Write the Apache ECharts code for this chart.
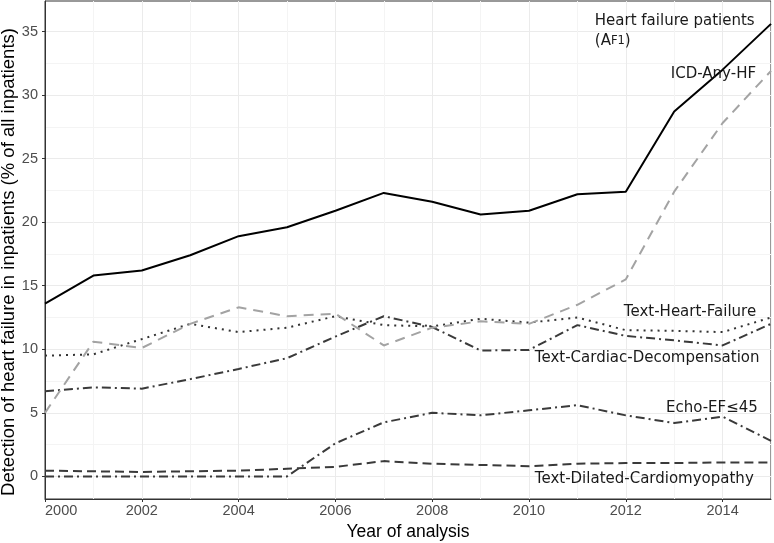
<!DOCTYPE html>
<html><head><meta charset="utf-8">
<script src="https://cdn.jsdelivr.net/npm/echarts@6/dist/echarts.min.js"></script>
<style>html,body{margin:0;padding:0;background:#fff}#c{width:774px;height:543px}</style>
</head><body><div id="c"></div>
<script>
const years = [2000,2001,2002,2003,2004,2005,2006,2007,2008,2009,2010,2011,2012,2013,2014,2015];
const heartFailurePatients = [13.6,15.8,16.2,17.4,18.9,19.6,20.9,22.3,21.6,20.6,20.9,22.2,22.4,28.7,32.0,35.6];
const icdAnyHF = [5.0,10.6,10.1,12.0,13.3,12.6,12.8,10.3,11.7,12.2,12.0,13.5,15.5,22.4,27.8,31.9];
const textHeartFailure = [9.5,9.6,10.8,12.0,11.35,11.7,12.6,11.9,11.8,12.4,12.1,12.5,11.5,11.45,11.35,12.5];
const textCardiacDecomp = [6.7,7.0,6.9,7.65,8.45,9.3,11.0,12.6,11.75,9.9,9.95,11.9,11.05,10.7,10.3,12.0];
const echoEF45 = [0,0,0,0,0,0,2.6,4.25,5.0,4.8,5.2,5.6,4.8,4.2,4.7,2.8];
const textDilatedCM = [0.45,0.4,0.35,0.4,0.45,0.6,0.75,1.2,1.0,0.9,0.8,1.0,1.05,1.05,1.1,1.1];
const yTicks = [0,5,10,15,20,25,30,35];
const xTicks = [2000,2002,2004,2006,2008,2010,2012,2014];
const yGrid = [0,2.5,5,7.5,10,12.5,15,17.5,20,22.5,25,27.5,30,32.5,35,37.5];
const yTitle = 'Detection of heart failure in inpatients (% of all inpatients)';
const xTitle = 'Year of analysis';

const labelDefs = [
  {text:'Heart failure patients', x:2011.36, y:35.82},
  {text:'(A{sc|F1})', x:2011.36, y:34.24},
  {text:'ICD-Any-HF', x:2012.93, y:31.64},
  {text:'Text-Heart-Failure', x:2011.96, y:12.95},
  {text:'Text-Cardiac-Decompensation', x:2010.12, y:9.32},
  {text:'Echo-EF≤45', x:2012.83, y:5.4},
  {text:'Text-Dilated-Cardiomyopathy', x:2010.12, y:-0.22}
];

const pair = arr => years.map((y,i)=>[y,arr[i]]);
const YMIN=-1.78, YMAX=37.4;
const chart = echarts.init(document.getElementById('c'));
const sans = '"Liberation Sans", Arial, sans-serif';
function mk(name, data, color, type){
  return {name, type:'line', data:pair(data), xAxisIndex:0, yAxisIndex:0, symbol:'none', animation:false,
    lineStyle:{color, width:2, type, cap:'butt'}, z:5};
}
chart.setOption({
  animation:false,
  grid:{left:45,right:3,top:1,bottom:44,outerBoundsMode:'none',containLabel:false,show:true,borderColor:'#333',borderWidth:1,backgroundColor:'#fff'},
  xAxis:[
    {type:'value',min:2000,max:2015,interval:1,axisLabel:{show:false},axisTick:{show:false},
     axisLine:{show:false},splitLine:{show:true,lineStyle:{color:['#ebebeb','#f4f4f4'],width:1}}},
    {type:'value',min:2000,max:2015,position:'bottom',splitLine:{show:false},
     axisLine:{show:true,onZero:false,lineStyle:{color:'#333',width:1}},
     axisTick:{show:true,length:3,customValues:xTicks,lineStyle:{color:'#333'}},
     axisLabel:{customValues:xTicks,color:'#4d4d4d',fontSize:14.5,fontFamily:sans,margin:4,alignMinLabel:'left',formatter:v=>String(v)},
     name:xTitle,nameLocation:'middle',nameGap:22,
     nameTextStyle:{fontSize:17.5,color:'#000',fontFamily:sans}}
  ],
  yAxis:[
    {type:'value',min:YMIN,max:YMAX,axisLabel:{show:false},axisTick:{show:false,customValues:yGrid},
     axisLine:{show:false},splitLine:{show:true,lineStyle:{color:['#ebebeb','#f4f4f4'],width:1}}},
    {type:'value',min:YMIN,max:YMAX,position:'left',splitLine:{show:false},
     axisLine:{show:true,onZero:false,lineStyle:{color:'#333',width:1}},
     axisTick:{show:true,length:3,customValues:yTicks,lineStyle:{color:'#333'}},
     axisLabel:{customValues:yTicks,color:'#4d4d4d',fontSize:14.5,fontFamily:sans,margin:7,formatter:v=>String(v)}}
  ],
  series:[
    mk('Text-Dilated-Cardiomyopathy', textDilatedCM, '#3a3a3a', [9,5]),
    mk('Echo-EF≤45', echoEF45, '#3a3a3a', [9,4,2,4]),
    mk('Text-Cardiac-Decompensation', textCardiacDecomp, '#3a3a3a', [9,4,2,4]),
    mk('Text-Heart-Failure', textHeartFailure, '#333', [2,5]),
    mk('ICD-Any-HF', icdAnyHF, '#a3a3a3', [10,7]),
    mk('Heart failure patients', heartFailurePatients, '#000', 'solid')
  ]
});
const graphics = labelDefs.map(d=>{
  const p = chart.convertToPixel({gridIndex:0},[d.x,d.y]);
  return {type:'text', x:p[0], y:p[1], z:20, style:{text:d.text, fill:'#1a1a1a', font:'15px "DejaVu Sans", sans-serif',
    verticalAlign:'middle', align:'left',
    rich:{sc:{fontSize:11.5, fontFamily:'"DejaVu Sans", sans-serif', fill:'#1a1a1a'}}}};
});
graphics.push({type:'text', x:9, y:262, rotation:Math.PI/2, z:20,
  style:{text:yTitle, fill:'#000', font:'18.5px "Liberation Sans", Arial, sans-serif', align:'center', verticalAlign:'middle'}});
chart.setOption({graphic:graphics});
</script></body></html>
